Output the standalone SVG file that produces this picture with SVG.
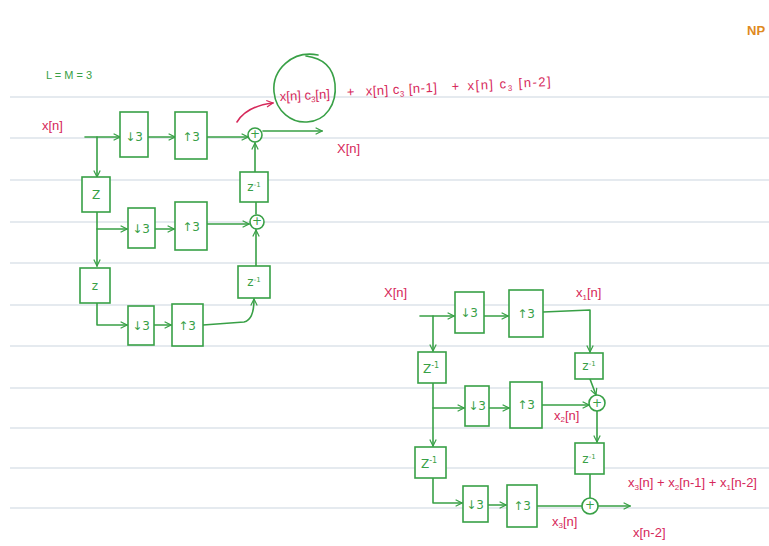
<svg xmlns="http://www.w3.org/2000/svg" width="769" height="546" viewBox="0 0 769 546">
<defs>
<style>
.rule{stroke:#dde3ea;stroke-width:1.5}
.g{fill:none;stroke:#38a046;stroke-width:1.6;stroke-linejoin:round;stroke-linecap:round}
.box{fill:#fff;stroke:#38a046;stroke-width:1.6}
.gt{fill:#38a046;font-family:"DejaVu Sans","Liberation Sans",sans-serif;font-size:12px;text-anchor:middle}
.rt{fill:#d6285a;font-family:"Liberation Sans","DejaVu Sans",sans-serif;font-size:13px}
.sub{font-size:8px}
.r{fill:none;stroke:#d6285a;stroke-width:1.6;stroke-linecap:round}
</style>
<marker id="a" viewBox="0 0 10 10" refX="9" refY="5" markerWidth="8" markerHeight="8" orient="auto" markerUnits="userSpaceOnUse"><path d="M1,1 L9,5 L1,9" fill="none" stroke="#38a046" stroke-width="1.5"/></marker>
<marker id="ar" viewBox="0 0 10 10" refX="9" refY="5" markerWidth="8" markerHeight="8" orient="auto" markerUnits="userSpaceOnUse"><path d="M1,1 L9,5 L1,9" fill="none" stroke="#d6285a" stroke-width="1.5"/></marker>
</defs>
<rect width="769" height="546" fill="#fff"/>
<g id="ruling">
<line class="rule" x1="10" y1="97" x2="769" y2="97"/>
<line class="rule" x1="10" y1="138" x2="769" y2="138"/>
<line class="rule" x1="10" y1="180" x2="769" y2="180"/>
<line class="rule" x1="10" y1="222" x2="769" y2="222"/>
<line class="rule" x1="10" y1="263" x2="769" y2="263"/>
<line class="rule" x1="10" y1="305" x2="769" y2="305"/>
<line class="rule" x1="10" y1="346" x2="769" y2="346"/>
<line class="rule" x1="10" y1="388" x2="769" y2="388"/>
<line class="rule" x1="10" y1="428" x2="769" y2="428"/>
<line class="rule" x1="10" y1="468" x2="769" y2="468"/>
<line class="rule" x1="10" y1="508" x2="769" y2="508"/>
</g>
<text x="747" y="35" fill="#e08a1e" font-family="Liberation Sans,sans-serif" font-weight="bold" font-size="13">NP</text>

<g id="connectors">
<!-- left diagram -->
<path class="g" d="M85,137 H120" marker-end="url(#a)"/>
<path class="g" d="M97,137 V177" marker-end="url(#a)"/>
<path class="g" d="M148,137 H175" marker-end="url(#a)"/>
<path class="g" d="M207,137 H248" marker-end="url(#a)"/>
<path class="g" d="M263,131 H322" marker-end="url(#a)"/>
<path class="g" d="M255,172 V143" marker-end="url(#a)"/>
<path class="g" d="M256,202 V214"/>
<path class="g" d="M97,212 V266" marker-end="url(#a)"/>
<path class="g" d="M97,229 H127" marker-end="url(#a)"/>
<path class="g" d="M155,229 H174" marker-end="url(#a)"/>
<path class="g" d="M207,224 H249" marker-end="url(#a)"/>
<path class="g" d="M256,266 V230" marker-end="url(#a)"/>
<path class="g" d="M97,303 V325 H127" marker-end="url(#a)"/>
<path class="g" d="M154,325 H171" marker-end="url(#a)"/>
<path class="g" d="M203,325 L244,322 Q254,320 254,299" marker-end="url(#a)"/>
<!-- right diagram -->
<path class="g" d="M420,316 H454" marker-end="url(#a)"/>
<path class="g" d="M484,316 H508" marker-end="url(#a)"/>
<path class="g" d="M543,312 L590,310 V352" marker-end="url(#a)"/>
<path class="g" d="M433,316 V351" marker-end="url(#a)"/>
<path class="g" d="M590,379 L596,395" marker-end="url(#a)"/>
<path class="g" d="M433,383 V446" marker-end="url(#a)"/>
<path class="g" d="M433,408 H464" marker-end="url(#a)"/>
<path class="g" d="M489,408 H509" marker-end="url(#a)"/>
<path class="g" d="M542,405 H589" marker-end="url(#a)"/>
<path class="g" d="M597,411 V442" marker-end="url(#a)"/>
<path class="g" d="M590,474 V498"/>
<path class="g" d="M433,478 V503 H462" marker-end="url(#a)"/>
<path class="g" d="M488,505 H506" marker-end="url(#a)"/>
<path class="g" d="M537,506 H582"/>
<path class="g" d="M598,506 H630" marker-end="url(#a)"/>
<!-- annotation arrow -->
<path class="r" d="M237,122 Q247,106 273,103" marker-end="url(#ar)"/>
</g>

<g id="labels">
<text x="46" y="79" fill="#38a046" font-family="Liberation Sans,sans-serif" font-size="11">L = M = 3</text>
<text class="rt" x="42" y="130">x[n]</text>
<text class="rt" x="337" y="153">X[n]</text>
<g id="expr" transform="rotate(-3 280 99)">
<text class="rt" x="280" y="101" font-size="12">x[n] c<tspan class="sub" dy="3">3</tspan><tspan dy="-3">[n]</tspan></text>
<text class="rt" x="347" y="100">+</text>
<text class="rt" x="366" y="100" letter-spacing="0.5">x[n] c<tspan class="sub" dy="3">3</tspan><tspan dy="-3"> [n-1]</tspan></text>
<text class="rt" x="452" y="100">+</text>
<text class="rt" x="468" y="100" letter-spacing="1.5">x[n] c<tspan class="sub" dy="3">3</tspan><tspan dy="-3"> [n-2]</tspan></text>
</g>
<path id="loop" class="g" d="M318,55 C292,50 272,70 274,92 C276,112 292,123 307,122 C326,121 337,104 335,84 C333,66 322,58 306,56"/>
<text class="rt" x="384" y="297">X[n]</text>
<text class="rt" x="576" y="297" font-size="11">x<tspan class="sub" dy="3">1</tspan><tspan dy="-3">[n]</tspan></text>
<text class="rt" x="554" y="420" font-size="10">x<tspan class="sub" dy="2">2</tspan><tspan dy="-2">[n]</tspan></text>
<text class="rt" x="552" y="526" font-size="10">x<tspan class="sub" dy="2">3</tspan><tspan dy="-2">[n]</tspan></text>
<text class="rt" x="628" y="487" font-size="12.5">x<tspan class="sub" dy="3">3</tspan><tspan dy="-3">[n] + x</tspan><tspan class="sub" dy="3">2</tspan><tspan dy="-3">[n-1] + x</tspan><tspan class="sub" dy="3">1</tspan><tspan dy="-3">[n-2]</tspan></text>
<text class="rt" x="633" y="537">x[n-2]</text>
</g>

<!-- left diagram nodes -->
<g id="L_down1"><rect class="box" x="120" y="112" width="28" height="45"/><text class="gt" x="134" y="141">↓3</text></g>
<g id="L_up1"><rect class="box" x="175" y="112" width="32" height="47"/><text class="gt" x="191" y="141">↑3</text></g>
<g id="L_add1"><circle class="box" cx="255" cy="135" r="7"/><text class="gt" x="255" y="138" font-size="8">+</text></g>
<g id="L_Z1"><rect class="box" x="82" y="177" width="28" height="35"/><text class="gt" x="96" y="199">Z</text></g>
<g id="L_zinv1"><rect class="box" x="240" y="172" width="28" height="30"/><text class="gt" x="254" y="191" font-size="10">z<tspan dy="-4" font-size="7">-1</tspan></text></g>
<g id="L_down2"><rect class="box" x="128" y="208" width="27" height="40"/><text class="gt" x="141" y="233">↓3</text></g>
<g id="L_up2"><rect class="box" x="175" y="202" width="32" height="48"/><text class="gt" x="191" y="231">↑3</text></g>
<g id="L_add2"><circle class="box" cx="257" cy="222" r="7"/><text class="gt" x="257" y="225" font-size="8">+</text></g>
<g id="L_Z2"><rect class="box" x="80" y="268" width="30" height="35"/><text class="gt" x="95" y="290">z</text></g>
<g id="L_zinv2"><rect class="box" x="238" y="266" width="32" height="32"/><text class="gt" x="254" y="286" font-size="10">z<tspan dy="-4" font-size="7">-1</tspan></text></g>
<g id="L_down3"><rect class="box" x="128" y="306" width="26" height="39"/><text class="gt" x="141" y="330">↓3</text></g>
<g id="L_up3"><rect class="box" x="172" y="304" width="31" height="42"/><text class="gt" x="187" y="330">↑3</text></g>

<!-- right diagram nodes -->
<g id="R_down1"><rect class="box" x="455" y="292" width="29" height="41"/><text class="gt" x="469" y="317">↓3</text></g>
<g id="R_up1"><rect class="box" x="509" y="290" width="34" height="47"/><text class="gt" x="526" y="318">↑3</text></g>
<g id="R_Zinv1"><rect class="box" x="418" y="352" width="28" height="31"/><text class="gt" x="431" y="373">Z<tspan dy="-5" font-size="8">-1</tspan></text></g>
<g id="R_zinv1"><rect class="box" x="575" y="353" width="28" height="26"/><text class="gt" x="589" y="370" font-size="10">z<tspan dy="-4" font-size="7">-1</tspan></text></g>
<g id="R_down2"><rect class="box" x="465" y="386" width="24" height="40"/><text class="gt" x="477" y="410">↓3</text></g>
<g id="R_up2"><rect class="box" x="510" y="382" width="32" height="46"/><text class="gt" x="526" y="409">↑3</text></g>
<g id="R_add2"><circle class="box" cx="597" cy="403" r="8"/><text class="gt" x="597" y="407" font-size="10">+</text></g>
<g id="R_Zinv2"><rect class="box" x="415" y="447" width="31" height="31"/><text class="gt" x="429" y="468">Z<tspan dy="-5" font-size="8">-1</tspan></text></g>
<g id="R_zinv2"><rect class="box" x="575" y="443" width="29" height="31"/><text class="gt" x="589" y="463" font-size="10">z<tspan dy="-4" font-size="7">-1</tspan></text></g>
<g id="R_down3"><rect class="box" x="463" y="486" width="25" height="36"/><text class="gt" x="475" y="509">↓3</text></g>
<g id="R_up3"><rect class="box" x="507" y="485" width="30" height="42"/><text class="gt" x="522" y="510">↑3</text></g>
<g id="R_add3"><circle class="box" cx="590" cy="506" r="8"/><text class="gt" x="590" y="509" font-size="8">+</text></g>
</svg>
